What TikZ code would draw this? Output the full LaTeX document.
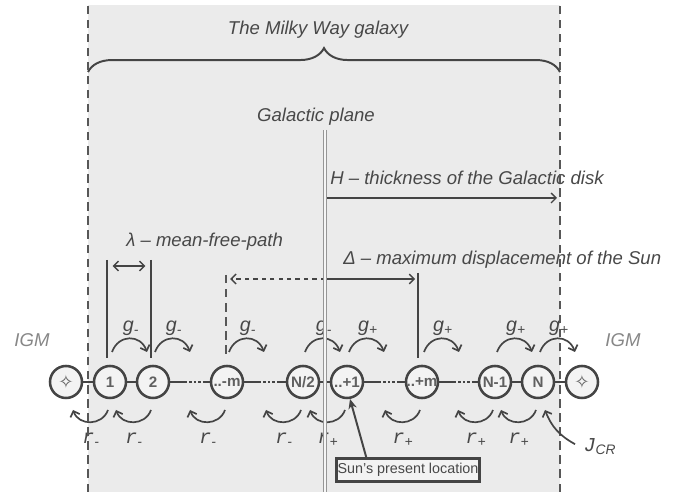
\documentclass[tikz,border=0pt]{standalone}
\usepackage{fontspec}
\setmainfont{Liberation Sans}
\setmonofont{Liberation Mono}
\newfontfamily\symfont{DejaVu Sans}
\usetikzlibrary{arrows.meta, decorations.pathreplacing, calc, positioning}
\definecolor{inkgray}{RGB}{68, 68, 68}
\definecolor{textgray}{RGB}{72, 72, 72}
\definecolor{igmgray}{RGB}{135, 135, 135}
\definecolor{diskgray}{RGB}{235, 235, 235}
\definecolor{cellgray}{RGB}{243, 243, 243}
\definecolor{planegray}{RGB}{150, 150, 150}

\begin{document}
\begin{tikzpicture}[x=0.025cm, y=0.025cm,
    lbl/.style={text=textgray, font=\fontsize{13.2}{16}\selectfont\itshape, inner sep=0},
    cell/.style={circle, draw=inkgray, fill=cellgray, line width=1.8pt, minimum size=0.8cm, inner sep=0, text=inkgray!85, font=\fontsize{10.8}{12}\selectfont\bfseries},
    link/.style={inkgray, line width=1.6pt},
    gaplink/.style={link, dash pattern=on 12pt off 1.6pt on 1.6pt off 1.6pt on 1.6pt off 1.6pt on 1.6pt off 1.6pt on 30pt},
    flow/.style={inkgray, line width=1.2pt, -{Straight Barb[length=3.5pt, width=7pt]}},
    pointer/.style={inkgray, line width=1pt},
    bar/.style={inkgray, line width=2pt},
    rim/.style={inkgray!90, line width=1.6pt, dash pattern=on 6pt off 4pt}]

    % Frame and galactic disk
    \useasboundingbox (0,0) rectangle (678,492);
    \fill[diskgray] (88,0) rectangle (560,487);

    \node[lbl] (galaxy) at (318,462) {The Milky Way galaxy};
    \draw[inkgray, line width=1.4pt, decorate, decoration={brace, amplitude=17pt}] (88,420) -- (560,420);

    \node[lbl] (plane) at (316,375) {Galactic plane};
    \coordinate (planetop) at (325,362);
    \coordinate (planebot) at (325,0);

    % Chain of cells
    \node[cell] (igmL) at (66,110) {\symfont\fontsize{13}{14}\selectfont ✧};
    \foreach \x/\n/\t in {110/n1/1, 153/n2/2, 227/nm/{..-m}, 303/nh/{N/2}, 347/np1/{..+1}, 422/npm/{..+m}, 495/nN1/{N-1}, 538/nN/N}
        \node[cell] (\n) at (\x,110) {\t};
    \node[cell] (igmR) at (582,110) {\symfont\fontsize{13}{14}\selectfont ✧};

    \draw[link] (igmL) -- (n1) (n1) -- (n2) (nh) -- (np1) (nN1) -- (nN) (nN) -- (igmR);
    \draw[gaplink] (n2) -- (nm);
    \draw[gaplink] (nm) -- (nh);
    \draw[gaplink] (np1) -- (npm);
    \draw[gaplink] (npm) -- (nN1);

    % Hops up and down the chain
    \foreach \n/\s in {n1/-, n2/-, nm/-, nh/-, np1/+, npm/+, nN1/+, nN/+} {
        \draw[flow] ($(\n)+(2,30)$) to[out=70, in=110, looseness=1.4] ($(\n)+(37,30)$);
        \node[lbl] (g\n) at ($(\n)+(21,54)$) {\fontsize{14}{16}\selectfont g\textsubscript{\s}};
        \draw[flow] ($(\n)+(-2,-28)$) to[out=-110, in=-70, looseness=1.25] ($(\n)+(-37,-28)$);
        \node[lbl] (r\n) at ($(\n)+(-19,-58)$) {\fontsize{14}{16}\selectfont\texttt{r}\textsubscript{\s}};
    }

    % Mean free path
    \node[lbl, anchor=west] (lambda) at (126,250) {λ -- mean-free-path};
    \draw[bar] (107,232) -- (107,134);
    \draw[bar] (151,232) -- (151,134);
    \coordinate (lamL) at (107,226);
    \coordinate (lamR) at (151,226);
    \draw[pointer, {Straight Barb[length=3.5pt, width=7pt]}-{Straight Barb[length=3.5pt, width=7pt]}, shorten <=4pt, shorten >=4pt] (lamL) -- (lamR);

    % Displacement of the Sun
    \node[lbl, anchor=west] (delta) at (343,232) {Δ -- maximum displacement of the Sun};
    \draw[rim] (226,217) -- (226,137);
    \draw[bar] (418,219) -- (418,134);
    \coordinate (dispL) at (226,213);
    \coordinate (dispR) at (418,213);
    \coordinate (dispC) at (325,213);
    \draw[pointer, dashed, -{Straight Barb[length=3.5pt, width=7pt]}, shorten >=3pt] (dispC) -- (dispL);
    \draw[pointer, -{Straight Barb[length=3.5pt, width=7pt]}, shorten >=2pt] (dispC) -- (dispR);

    % Disk thickness
    \node[lbl, anchor=west] (thick) at (330,314) {H -- thickness of the Galactic disk};
    \coordinate (hend) at (557,294);
    \draw[pointer, -{Straight Barb[length=3.5pt, width=7pt]}] (planetop |- hend) -- (hend);

    % Galactic plane and disk edges
    \draw[planegray, line width=0.6pt, double=diskgray!50, double distance=1.6pt] (planetop) -- (planebot);
    \draw[rim] (88,0) -- (88,486);
    \draw[rim] (560,0) -- (560,486);

    \node[lbl, text=igmgray] (igmtextL) at (32,152) {IGM};
    \node[lbl, text=igmgray] (igmtextR) at (623,152) {IGM};

    % Cosmic ray flux
    \node[lbl] (jcr) at (600,45) {\fontsize{14}{16}\selectfont\texttt{J}\textsubscript{CR}};
    \draw[flow] ([xshift=-6pt, yshift=2pt]jcr.west) to[bend left=20] ($(nN)+(7,-28)$);

    % Sun
    \node[draw=inkgray, line width=1.6pt, fill=cellgray, text=textgray, font=\fontsize{10.2}{12}\selectfont, inner sep=0, minimum width=3.58cm, minimum height=0.58cm] (sun) at (408,22) {Sun's present location};
    \draw[inkgray, line width=1.4pt, -{Stealth[length=7pt, width=6pt]}] ($(sun.north west)+(31,0)$) -- (np1.-80);
\end{tikzpicture}
\end{document}
